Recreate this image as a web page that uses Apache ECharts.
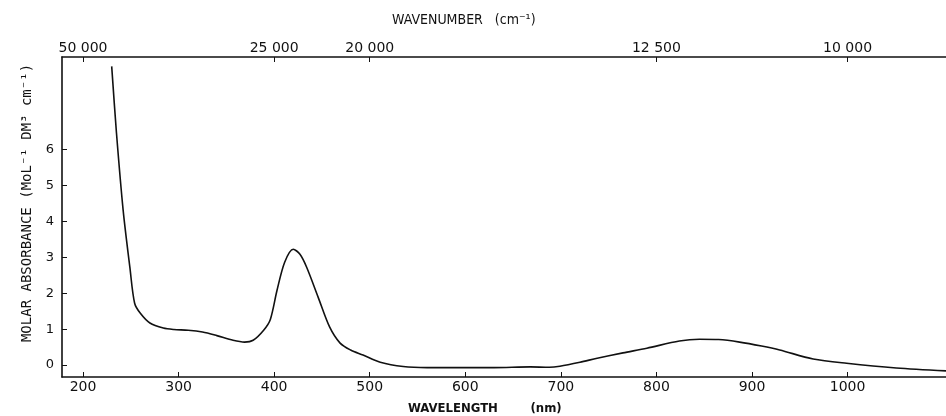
<!DOCTYPE html>
<html lang="en">
<head>
    <meta charset="UTF-8">
    <title>Molar absorbance spectrum</title>
    <script src="https://cdn.jsdelivr.net/npm/echarts@6/dist/echarts.min.js"></script>
    <style>
        body { margin: 0; background: #fff; }
    </style>
</head>
<body>
    <div id="main" style="width: 946px;height:416px;"></div>
    <script>
        // spectrum (wavelength in nm)
        var wavelength = [230, 235, 242, 249, 254, 260, 270, 284, 295, 310, 325, 340, 357, 369, 378, 389, 396, 403, 411, 420,
            427, 434, 446, 458, 469, 480, 493, 511, 535, 560, 597, 630, 668, 688, 699, 720, 738, 765, 790, 824,
            845, 865, 887, 910, 929, 964, 999, 1051, 1103];
        var absorbance = [8.3, 6.45, 4.3, 2.72, 1.72, 1.44, 1.17, 1.03, 0.99, 0.97, 0.92, 0.82, 0.69, 0.64, 0.69, 0.97, 1.27, 2.08, 2.86, 3.22,
            3.08, 2.72, 1.89, 1.06, 0.61, 0.42, 0.28, 0.08, -0.04, -0.07, -0.07, -0.07, -0.05, -0.06, -0.03, 0.08, 0.19, 0.34, 0.47, 0.67,
            0.72, 0.71, 0.64, 0.53, 0.42, 0.17, 0.05, -0.08, -0.16];

        var wavelengthTicks = [200, 300, 400, 500, 600, 700, 800, 900, 1000];
        var absorbanceTicks = [0, 1, 2, 3, 4, 5, 6];
        // top axis: wavenumber labels sit at these wavelengths
        var wavenumberAt = [200, 400, 500, 800, 1000];
        var wavenumberLabels = ['50 000', '25 000', '20 000', '12 500', '10 000'];

        var points = [];
        for (var i = 0; i < wavelength.length; i++) {
            points.push([wavelength[i], absorbance[i]]);
        }

        var ink = '#111';
        var myChart = echarts.init(document.getElementById('main'));
        var option = {
            backgroundColor: '#fff',
            animation: false,
            textStyle: { fontFamily: 'DejaVu Sans', color: ink },
            title: [
                {
                    text: 'WAVENUMBER   (cm⁻¹)',
                    left: 387, top: 8,
                    textStyle: { fontSize: 14, fontWeight: 'normal', color: ink, fontFamily: 'DejaVu Sans Condensed' }
                },
                {
                    text: 'WAVELENGTH        (nm)',
                    left: 403, top: 397,
                    textStyle: { fontSize: 13, fontWeight: 'bold', color: ink, fontFamily: 'DejaVu Sans Condensed' }
                }
            ],
            graphic: [
                {
                    type: 'text',
                    x: 27, y: 203,
                    rotation: Math.PI / 2,
                    style: {
                        text: 'MOLAR ABSORBANCE (MoL⁻¹ DM³ cm⁻¹)',
                        fill: ink,
                        font: '14px "DejaVu Sans Mono"',
                        align: 'center',
                        verticalAlign: 'middle'
                    }
                }
            ],
            grid: { left: 62, right: 0, top: 57, bottom: 39 },
            xAxis: [
                {
                    type: 'value',
                    position: 'bottom',
                    min: 178, max: 1103,
                    splitLine: { show: false },
                    axisLine: { onZero: false, lineStyle: { color: ink, width: 1.6 } },
                    axisTick: { inside: true, length: 5, customValues: wavelengthTicks, lineStyle: { color: ink } },
                    axisLabel: {
                        customValues: wavelengthTicks, fontSize: 14, color: ink, margin: 3,
                        formatter: function (v) { return String(v); }
                    }
                },
                {
                    type: 'value',
                    position: 'top',
                    min: 178, max: 1103,
                    splitLine: { show: false },
                    axisLine: { onZero: false, lineStyle: { color: ink, width: 1.6 } },
                    axisTick: { inside: true, length: 5, customValues: wavenumberAt, lineStyle: { color: ink } },
                    axisLabel: {
                        customValues: wavenumberAt, fontSize: 14, color: ink, margin: 2,
                        formatter: function (v) {
                            var k = wavenumberAt.indexOf(Math.round(v));
                            return k >= 0 ? wavenumberLabels[k] : '';
                        }
                    }
                }
            ],
            yAxis: {
                type: 'value',
                min: -0.33, max: 8.56,
                splitLine: { show: false },
                axisLine: { show: true, onZero: false, lineStyle: { color: ink, width: 1.6 } },
                axisTick: { show: true, inside: true, length: 5, customValues: absorbanceTicks, lineStyle: { color: ink } },
                axisLabel: { customValues: absorbanceTicks, fontSize: 13, color: ink, margin: 8 }
            },
            series: [
                {
                    type: 'line',
                    xAxisIndex: 0,
                    data: points,
                    showSymbol: false,
                    smooth: 0.3,
                    lineStyle: { color: ink, width: 1.6 }
                }
            ]
        };
        myChart.setOption(option);
    </script>
</body>
</html>
